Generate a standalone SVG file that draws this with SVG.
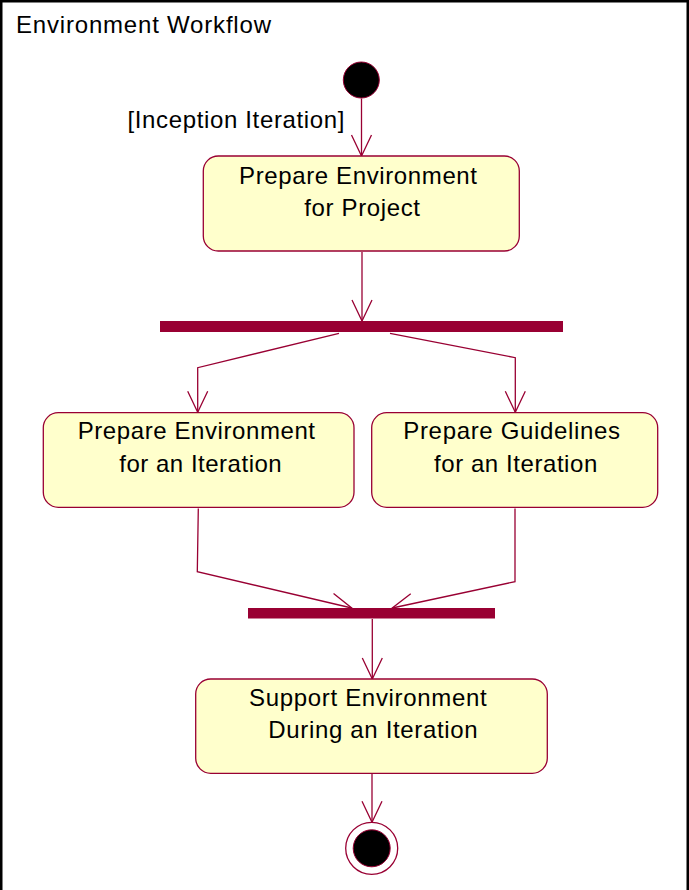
<svg xmlns="http://www.w3.org/2000/svg" width="689" height="890" viewBox="0 0 689 890">
  <style>
    .frame { fill: #ffffff; stroke: #000000; stroke-width: 2.5; }
    .label { font-family: "Liberation Sans", Arial, sans-serif; font-size: 24px; fill: #000000; }
    .act { fill: #ffffcc; stroke: #990033; stroke-width: 1.3; }
    .bar { fill: #990033; }
    .flow { fill: none; stroke: #990033; stroke-width: 1.3; }
  </style>
  <defs>
    <marker id="open-arrow" markerUnits="userSpaceOnUse" markerWidth="30" markerHeight="30" viewBox="-25 -15 30 30" refX="0" refY="0" orient="auto" overflow="visible">
      <path d="M -21 -10 L 0 0 L -21 10" fill="none" stroke="#990033" stroke-width="1.3"/>
    </marker>
  </defs>

  <!-- diagram frame -->
  <rect class="frame" x="1.25" y="1.25" width="686.5" height="900"/>
  <text class="label" x="16" y="33.3" textLength="255" lengthAdjust="spacing">Environment Workflow</text>

  <!-- connectors -->
  <g id="connectors">
    <path class="flow" d="M 361.5 98.5 L 361.5 156" marker-end="url(#open-arrow)"/>
    <text class="label" x="127.5" y="127.5" textLength="217" lengthAdjust="spacing">[Inception Iteration]</text>
    <path class="flow" d="M 362 252 L 362 321" marker-end="url(#open-arrow)"/>
    <path class="flow" d="M 339 333.3 L 197.7 367.7 L 197.7 412.3" marker-end="url(#open-arrow)"/>
    <path class="flow" d="M 390 333.3 L 515.3 357.7 L 515.3 412.3" marker-end="url(#open-arrow)"/>
    <path class="flow" d="M 198.3 508.5 L 197.3 571.7 L 351.7 608" marker-end="url(#open-arrow)"/>
    <path class="flow" d="M 515 508.5 L 515 581.7 L 392.3 608" marker-end="url(#open-arrow)"/>
    <path class="flow" d="M 372.3 619 L 372.3 679" marker-end="url(#open-arrow)"/>
    <path class="flow" d="M 372 774 L 372 822.3" marker-end="url(#open-arrow)"/>
  </g>

  <!-- initial state -->
  <g id="start">
    <circle cx="361.3" cy="80" r="18" fill="#000000" stroke="#990033" stroke-width="1"/>
  </g>

  <!-- activities -->
  <g id="prepare-env-project">
    <rect class="act" x="203.3" y="156" width="316" height="95" rx="15" ry="15"/>
    <text class="label" x="239" y="184.3" textLength="238" lengthAdjust="spacing">Prepare Environment</text>
    <text class="label" x="304.3" y="216" textLength="115.7" lengthAdjust="spacing">for Project</text>
  </g>

  <g id="fork">
    <rect class="bar" x="160" y="321" width="403" height="11"/>
  </g>

  <g id="prepare-env-iteration">
    <rect class="act" x="43.3" y="412.7" width="310.7" height="94.6" rx="15" ry="15"/>
    <text class="label" x="77.7" y="439.3" textLength="237.3" lengthAdjust="spacing">Prepare Environment</text>
    <text class="label" x="119.3" y="471.7" textLength="162.4" lengthAdjust="spacing">for an Iteration</text>
  </g>

  <g id="prepare-guidelines-iteration">
    <rect class="act" x="371.7" y="412.7" width="286" height="94.6" rx="15" ry="15"/>
    <text class="label" x="403.3" y="439.3" textLength="216.7" lengthAdjust="spacing">Prepare Guidelines</text>
    <text class="label" x="434" y="471.7" textLength="163.3" lengthAdjust="spacing">for an Iteration</text>
  </g>

  <g id="join">
    <rect class="bar" x="248" y="608" width="247" height="10.5"/>
  </g>

  <g id="support-env-iteration">
    <rect class="act" x="195.7" y="679" width="351.6" height="94.3" rx="15" ry="15"/>
    <text class="label" x="249" y="705.7" textLength="237.7" lengthAdjust="spacing">Support Environment</text>
    <text class="label" x="268.3" y="737.7" textLength="209.4" lengthAdjust="spacing">During an Iteration</text>
  </g>

  <!-- final state -->
  <g id="end">
    <circle cx="371.7" cy="848.3" r="26" fill="#ffffff" stroke="#990033" stroke-width="1.3"/>
    <circle cx="371.7" cy="848.3" r="18.5" fill="#000000" stroke="#990033" stroke-width="1"/>
  </g>
</svg>
